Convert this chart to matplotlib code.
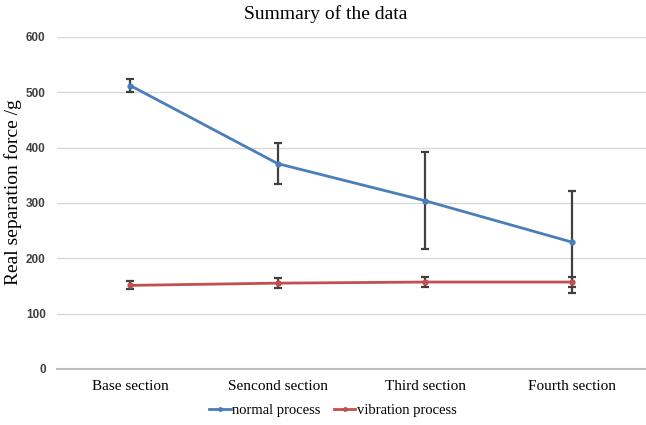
import matplotlib
matplotlib.use("Agg")
import matplotlib.pyplot as plt
from matplotlib.lines import Line2D

categories = ["Base section", "Sencond section", "Third section", "Fourth section"]
normal = [512, 371, 304, 229]
normal_err = [12, 37, 88, 92]
vibration = [151, 155, 157, 157]
vibration_err = [7, 9, 9, 9]
yticks = [0, 100, 200, 300, 400, 500, 600]

blue = "#4a7ebb"
red = "#c0504d"

fig = plt.figure(figsize=(6.46, 4.25), dpi=100)
ax = fig.add_axes([0.088, 0.132, 0.912, 0.781])
x = list(range(len(categories)))

ax.errorbar(x, normal, yerr=normal_err, color=blue, lw=2, marker="o", ms=3.5,
            ecolor="#404040", elinewidth=1.6, capsize=3, capthick=1.6, zorder=3)
ax.errorbar(x, vibration, yerr=vibration_err, color=red, lw=2, marker="o", ms=3.5,
            ecolor="#404040", elinewidth=1.6, capsize=3, capthick=1.6, zorder=3)

ax.set_xlim(-0.5, 3.5)
ax.set_ylim(0, 600)
ax.set_yticks(yticks)
ax.set_yticklabels([str(v) for v in yticks], fontsize=8.5, fontweight="bold", color="#404040",
                   family="Liberation Sans")
ax.set_xticks(x)
ax.set_xticklabels(categories, fontsize=11, family="Liberation Serif")
ax.tick_params(axis="both", length=0, pad=8)
ax.tick_params(axis="y", pad=8)
ax.grid(axis="y", color="#d9d9d9", lw=1)
ax.set_axisbelow(True)
for s in ["top", "right", "left"]:
    ax.spines[s].set_visible(False)
ax.spines["bottom"].set_color("#bfbfbf")
ax.spines["bottom"].set_linewidth(1.5)

fig.text(13 / 646, 1 - 192 / 425, "Real separation force /g", fontsize=14, family="Liberation Serif",
         rotation=90, ha="center", va="center")
fig.text(326 / 646, 1 - 14 / 425, "Summary of the data", fontsize=14, family="Liberation Serif",
         ha="center", va="center")

handles = [Line2D([], [], color=blue, lw=2, marker="o", ms=2.5),
           Line2D([], [], color=red, lw=2, marker="o", ms=2.5)]
fig.legend(handles, ["normal process", "vibration process"], loc="center",
           bbox_to_anchor=(0.515, 15 / 425), ncol=2, frameon=False,
           prop={"family": "Liberation Serif", "size": 10.5}, handlelength=1.5,
           handletextpad=0.1, columnspacing=0.9)
fig.savefig("out.png", dpi=100)
